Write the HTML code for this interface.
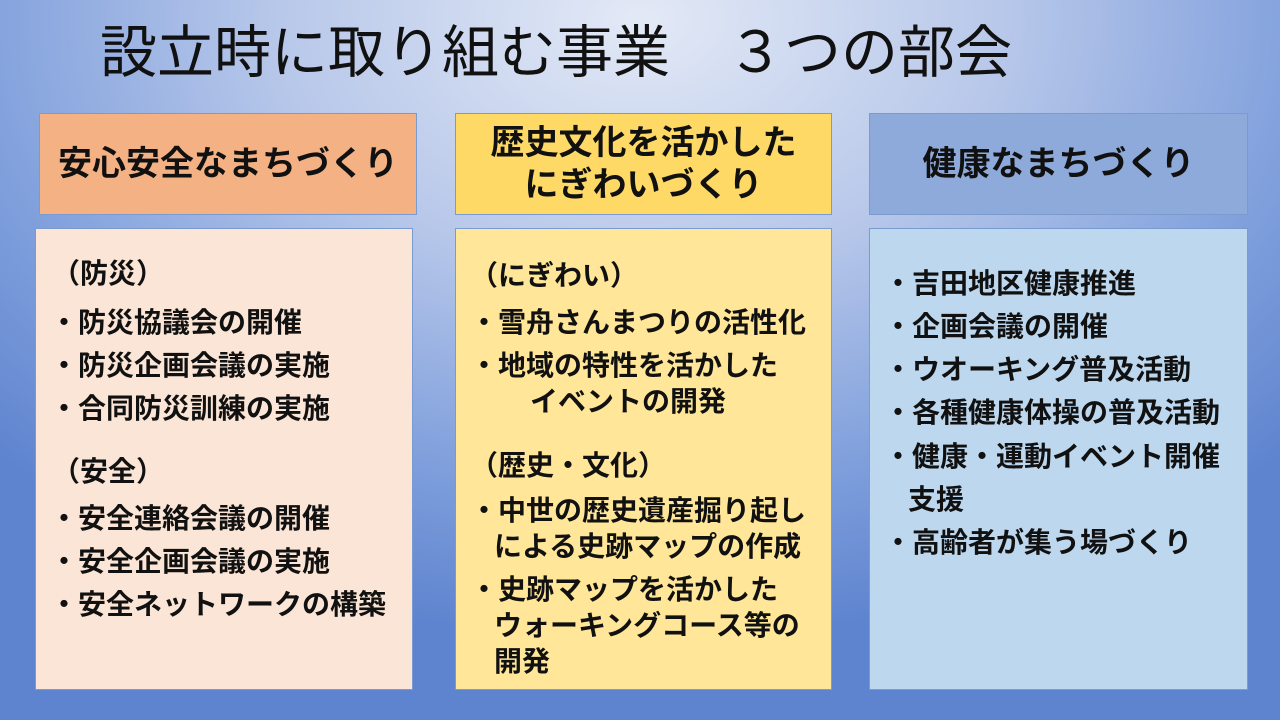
<!DOCTYPE html>
<html><head><meta charset="utf-8"><style>
*{margin:0;padding:0;box-sizing:border-box}
body{width:1280px;height:720px;overflow:hidden;position:relative;
background:radial-gradient(ellipse 900px 620px at 640px 20px,#e3e9f6 0%,#b8c8ea 40%,#7f9fdc 75%,#5f84cf 100%);
font-family:"Liberation Sans","Noto Sans CJK JP",sans-serif;color:#111}
.t{position:absolute;left:100px;top:18px;font-size:57px;line-height:70px;white-space:pre;letter-spacing:0px}
.b{position:absolute;border:1px solid #7a9bd0}
.h{display:flex;align-items:center;justify-content:center;text-align:center;font-weight:bold;font-size:34px;line-height:42px}
.l{position:absolute;font-weight:bold;font-size:28px;line-height:32px;white-space:pre}
</style></head><body>
<div class="t">設立時に取り組む事業　３つの部会</div>
<div class="b h" style="left:39px;top:113px;width:378px;height:102px;background:#f4b183">安心安全なまちづくり</div>
<div class="b h" style="left:455px;top:113px;width:377px;height:102px;background:#ffd966">歴史文化を活かした<br>にぎわいづくり</div>
<div class="b h" style="left:869px;top:113px;width:379px;height:102px;background:#8eaadb">健康なまちづくり</div>
<div class="b" style="left:35px;top:228px;width:378px;height:462px;background:#fbe5d6"></div>
<div class="b" style="left:455px;top:228px;width:377px;height:462px;background:#ffe699"></div>
<div class="b" style="left:869px;top:228px;width:379px;height:462px;background:#bdd7ee"></div>

<div class="l" style="left:52px;top:258px">（防災）</div>
<div class="l" style="left:50px;top:307px">・防災協議会の開催</div>
<div class="l" style="left:50px;top:350px">・防災企画会議の実施</div>
<div class="l" style="left:50px;top:393px">・合同防災訓練の実施</div>
<div class="l" style="left:52px;top:456px">（安全）</div>
<div class="l" style="left:50px;top:503px">・安全連絡会議の開催</div>
<div class="l" style="left:50px;top:546px">・安全企画会議の実施</div>
<div class="l" style="left:50px;top:589px">・安全ネットワークの構築</div>

<div class="l" style="left:470px;top:260px">（にぎわい）</div>
<div class="l" style="left:470px;top:307px">・雪舟さんまつりの活性化</div>
<div class="l" style="left:470px;top:350px">・地域の特性を活かした</div>
<div class="l" style="left:530px;top:386px">イベントの開発</div>
<div class="l" style="left:470px;top:450px">（歴史・文化）</div>
<div class="l" style="left:470px;top:495px">・中世の歴史遺産掘り起し</div>
<div class="l" style="left:494px;top:531px">による史跡マップの作成</div>
<div class="l" style="left:470px;top:574px">・史跡マップを活かした</div>
<div class="l" style="left:494px;top:610px">ウォーキングコース等の</div>
<div class="l" style="left:494px;top:646px">開発</div>

<div class="l" style="left:884px;top:268px">・吉田地区健康推進</div>
<div class="l" style="left:884px;top:311px">・企画会議の開催</div>
<div class="l" style="left:884px;top:354px">・ウオーキング普及活動</div>
<div class="l" style="left:884px;top:397px">・各種健康体操の普及活動</div>
<div class="l" style="left:884px;top:441px">・健康・運動イベント開催</div>
<div class="l" style="left:908px;top:484px">支援</div>
<div class="l" style="left:884px;top:527px">・高齢者が集う場づくり</div>
</body></html>
